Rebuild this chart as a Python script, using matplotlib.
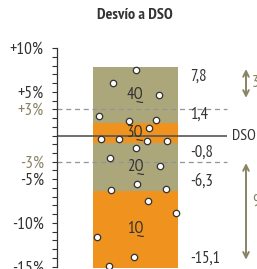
import matplotlib
matplotlib.use("Agg")
import matplotlib.pyplot as plt

plt.rcParams["font.family"] = ["PT Sans Narrow", "Roboto Condensed",
                               "Fira Sans Condensed", "Archivo Narrow",
                               "Liberation Sans Narrow", "DejaVu Sans"]

# datos
limites = [-15.1, -6.3, -0.8, 1.4, 7.8]
trimestres = ["1Q", "2Q", "3Q", "4Q"]
etiquetas_valor = ["-15,1", "-6,3", "-0,8", "1,4", "7,8"]
umbral = 3
rango_sup = "3"
rango_inf = "9"

# puntos (x relativo al ancho de la barra, y en %)
puntos_x = [0.51, 0.24, 0.78, 0.07, 0.42, 0.74, 0.66, 0.09, 0.31, 0.64, 0.87,
            0.51, 0.20, 0.79, 0.52, 0.21, 0.86, 0.65, 0.98, 0.05, 0.48, 0.19]
puntos_y = [7.5, 6.0, 4.6, 2.2, 1.7, 1.8, 0.9, -0.4, -0.4, -0.6, -0.6,
            -1.4, -2.6, -3.5, -5.5, -6.2, -6.1, -7.5, -8.9, -11.6, -13.9, -14.9]

ticks_y = [10, 5, 3, 0, -3, -5, -10, -15]
ticks_lbl = ["+10%", "+5%", "+3%", "", "-3%", "-5%", "-10%", "-15%"]

NARANJA = "#f0921e"
OLIVA = "#aca77b"
OLIVA_OSC = "#8a8466"
TXT = "#333333"
FS = 12.5

fig = plt.figure(figsize=(2.57, 2.69), dpi=100)
ax = fig.add_axes([0, 0, 1, 1])
ax.set_xlim(0, 257)
ax.set_ylim(-15.26, 15.49)

# barra apilada
x0, ancho = 93, 85
xc = x0 + ancho / 2
colores = [NARANJA if i % 2 == 0 else OLIVA for i in range(len(trimestres))]
for i, q in enumerate(trimestres):
    abajo, arriba = limites[i], limites[i + 1]
    ax.bar(xc, arriba - abajo, bottom=abajo, width=ancho, color=colores[i],
           zorder=1)
    ax.text(xc, (abajo + arriba) / 2, q, ha="center", va="center",
            fontsize=FS - 0.5, color=TXT, zorder=4)

# lineas de referencia
ax.hlines([umbral, -umbral], 57, 227, colors="#949494", linestyles=(0, (4, 3)),
          lw=0.9, zorder=2)
ax.hlines(0, 57, 227, colors="#555555", lw=1.2, zorder=2)
ax.text(232, 0, "DSO", ha="left", va="center", fontsize=FS - 1, color=TXT)

# puntos
ax.plot([x0 + px * ancho for px in puntos_x], puntos_y, "o", ms=4.6,
        mfc="white", mec="#333333", mew=0.9, zorder=5, clip_on=False)

# etiquetas de valor
va_lbl = ["bottom", "bottom", "top", "bottom", "top"]
for v, t, va in zip(limites, etiquetas_valor, va_lbl):
    ax.text(190, v + (0.1 if va == "bottom" else -0.2), t, ha="left", va=va,
            fontsize=FS - 0.5, color=TXT)

# flechas de rango
ax.annotate("", xy=(246, 4.3), xytext=(246, 7.6),
            arrowprops=dict(arrowstyle="<->", color=OLIVA_OSC, lw=1.4,
                            shrinkA=0, shrinkB=0))
ax.annotate("", xy=(246, -14.2), xytext=(246, -3.15),
            arrowprops=dict(arrowstyle="<->", color=OLIVA_OSC, lw=1.4,
                            shrinkA=0, shrinkB=0))
ax.text(252, (7.6 + 4.3) / 2, rango_sup, ha="left", va="center",
        fontsize=FS - 0.5, color=OLIVA_OSC)
ax.text(252, -7.6, rango_inf, ha="left", va="center",
        fontsize=FS - 0.5, color=OLIVA_OSC)

# eje y
for s in ["top", "right", "bottom"]:
    ax.spines[s].set_visible(False)
ax.spines["left"].set_position(("data", 57))
ax.spines["left"].set_bounds(-15, 10)
ax.spines["left"].set_color("#333333")
ax.spines["left"].set_linewidth(0.9)
ax.set_xticks([])
ax.set_yticks(ticks_y)
ax.set_yticklabels(ticks_lbl)
ax.set_yticks(range(-15, 11), minor=True)
ax.tick_params(axis="y", which="both", direction="out", length=3.6,
               width=0.8, color="#333333", labelsize=FS, labelcolor=TXT,
               pad=6)
for lbl, val in zip(ax.get_yticklabels(), ticks_y):
    if abs(val) == umbral:
        lbl.set_color(OLIVA_OSC)
ax.patch.set_visible(False)

fig.text(135 / 257, 1 - 15 / 269, "Desvío a DSO", ha="center", va="center",
         fontsize=11.5, fontweight="bold", color=TXT)

fig.savefig("out.png", dpi=100)
